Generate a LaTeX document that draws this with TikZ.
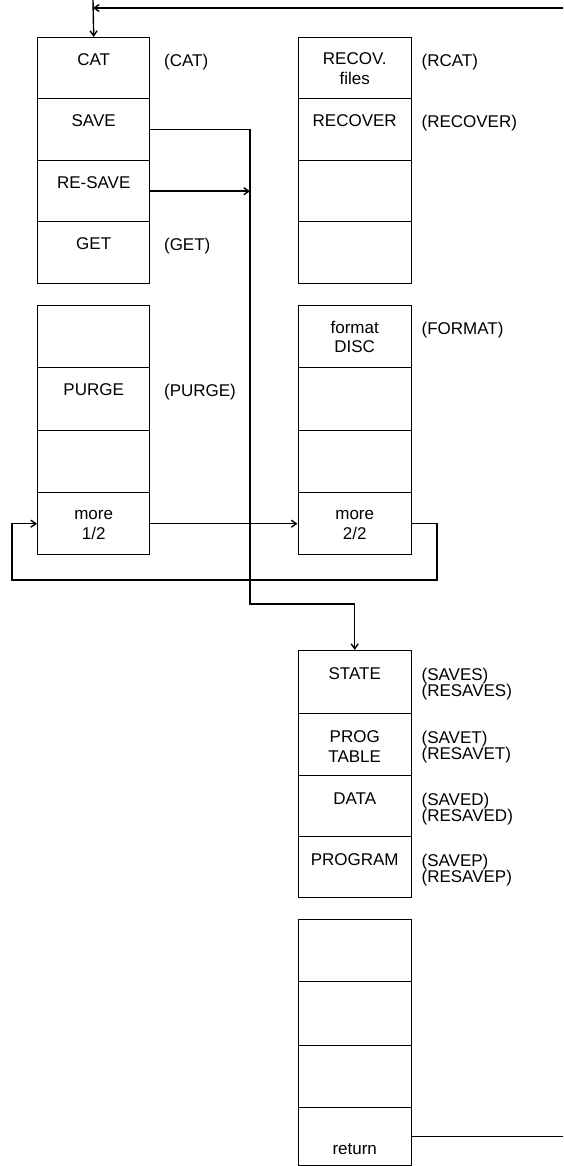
\documentclass[tikz,border=0pt]{standalone}
\usepackage{fontspec}
\setmainfont{Liberation Sans}
\usetikzlibrary{arrows.meta}
\newcommand\cs{\rule{0pt}{12pt}}
\newcommand\mkcell[5]{\node[cellbox, minimum width=#4pt, minimum height=#5pt] (#1) at (#2,#3) {};}
\begin{document}
\begin{tikzpicture}[x=1pt,y=-1pt,line width=1.4pt,
  cellbox/.style={draw, rectangle, inner sep=0pt, anchor=north west, line width=1.4pt},
  ctext/.style={anchor=north, inner sep=0pt, align=center, font=\fontsize{17}{19.5}\selectfont},
  ltext/.style={anchor=north west, inner sep=0pt, align=left, font=\fontsize{17}{16}\selectfont},
  arr/.style={-{Straight Barb[length=5pt,width=7pt]}}]
\useasboundingbox (0,0) rectangle (563,1166);
% left top column
\mkcell{cat}{37}{37}{112}{61}
\mkcell{save}{37}{98}{112}{62}
\mkcell{resave}{37}{160}{112}{61}
\mkcell{get}{37}{221}{112}{62}
% left lower column
\mkcell{l1}{37}{305}{112}{62}
\mkcell{purge}{37}{367}{112}{63}
\mkcell{l3}{37}{430}{112}{62}
\mkcell{more1}{37}{492}{112}{62}
% right top column
\mkcell{rcat}{297.5}{37}{113}{61}
\mkcell{recover}{297.5}{98}{113}{62}
\mkcell{r3}{297.5}{160}{113}{61}
\mkcell{r4}{297.5}{221}{113}{62}
% right lower column
\mkcell{format}{297.5}{305}{113}{62}
\mkcell{r6}{297.5}{367}{113}{63}
\mkcell{r7}{297.5}{430}{113}{62}
\mkcell{more2}{297.5}{492}{113}{62}
% save menu
\mkcell{state}{297.5}{650}{113}{63}
\mkcell{progtable}{297.5}{713}{113}{62}
\mkcell{data}{297.5}{775}{113}{61}
\mkcell{program}{297.5}{836}{113}{61}
% second save menu
\mkcell{b1}{297.5}{919}{113}{62}
\mkcell{b2}{297.5}{981}{113}{64}
\mkcell{b3}{297.5}{1045}{113}{62}
\mkcell{ret}{297.5}{1107}{113}{58}
% cell texts
\node[ctext] (t-cat) at ([yshift=-16pt]cat.north) {\cs CAT};
\node[ctext] (t-save) at ([yshift=-16pt]save.north) {\cs SAVE};
\node[ctext] (t-resave) at ([yshift=-16pt]resave.north) {\cs RE-SAVE};
\node[ctext] (t-get) at ([yshift=-16pt]get.north) {\cs GET};
\node[ctext] (t-purge) at ([yshift=-16pt]purge.north) {\cs PURGE};
\node[ctext] (t-more1) at ([yshift=-15pt]more1.north) {\cs more\\1/2};
\node[ctext] (t-rcat) at ([yshift=-15pt]rcat.north) {\cs RECOV.\\files};
\node[ctext] (t-recover) at ([yshift=-16pt]recover.north) {\cs RECOVER};
\node[ctext] (t-format) at ([yshift=-15pt]format.north) {\cs format\\DISC};
\node[ctext] (t-more2) at ([yshift=-15pt]more2.north) {\cs more\\2/2};
\node[ctext] (t-state) at ([yshift=-17pt]state.north) {\cs STATE};
\node[ctext] (t-prog) at ([yshift=-17pt]progtable.north) {\cs PROG\\TABLE};
\node[ctext] (t-data) at ([yshift=-17pt]data.north) {\cs DATA};
\node[ctext] (t-program) at ([yshift=-17pt]program.north) {\cs PROGRAM};
\node[ctext] (t-ret) at ([yshift=-35pt]ret.north) {\cs return};
% labels
\node[ltext] (l-cat) at ([xshift=13pt,yshift=-16pt]cat.north east) {\cs(CAT)};
\node[ltext] (l-get) at ([xshift=13pt,yshift=-16pt]get.north east) {\cs(GET)};
\node[ltext] (l-purge) at ([xshift=13pt,yshift=-16pt]purge.north east) {\cs(PURGE)};
\node[ltext] (l-rcat) at ([xshift=9pt,yshift=-16pt]rcat.north east) {\cs(RCAT)};
\node[ltext] (l-recover) at ([xshift=9pt,yshift=-16pt]recover.north east) {\cs(RECOVER)};
\node[ltext] (l-format) at ([xshift=9pt,yshift=-16pt]format.north east) {\cs(FORMAT)};
\node[ltext] (l-state) at ([xshift=9pt,yshift=-17pt]state.north east) {\cs(SAVES)\\(RESAVES)};
\node[ltext] (l-prog) at ([xshift=9pt,yshift=-17pt]progtable.north east) {\cs(SAVET)\\(RESAVET)};
\node[ltext] (l-data) at ([xshift=9pt,yshift=-17pt]data.north east) {\cs(SAVED)\\(RESAVED)};
\node[ltext] (l-program) at ([xshift=9pt,yshift=-17pt]program.north east) {\cs(SAVEP)\\(RESAVEP)};
% connectors
\coordinate (topR) at (563,8);
\coordinate (topL) at (93,8);
\coordinate (topU) at (93,0);
\coordinate (bus) at (250,604);
\coordinate (loopR) at (437,580);
\coordinate (loopL) at (12,580);
\coordinate (retR) at (563,1136);
\draw[arr] (topR) -- (topL);
\draw[arr] (topU) -- (cat.north);
\draw[arr] (save.east) -| (bus) -- (bus -| state.north) -- (state.north);
\draw[arr] (resave.east) -- (resave.east -| bus);
\draw[arr] (more1.east) -- (more2.west);
\draw[arr] (more2.east) -| (loopR) -- (loopL) |- (more1.west);
\draw (ret.east) -- (ret.east -| retR);
\end{tikzpicture}
\end{document}
